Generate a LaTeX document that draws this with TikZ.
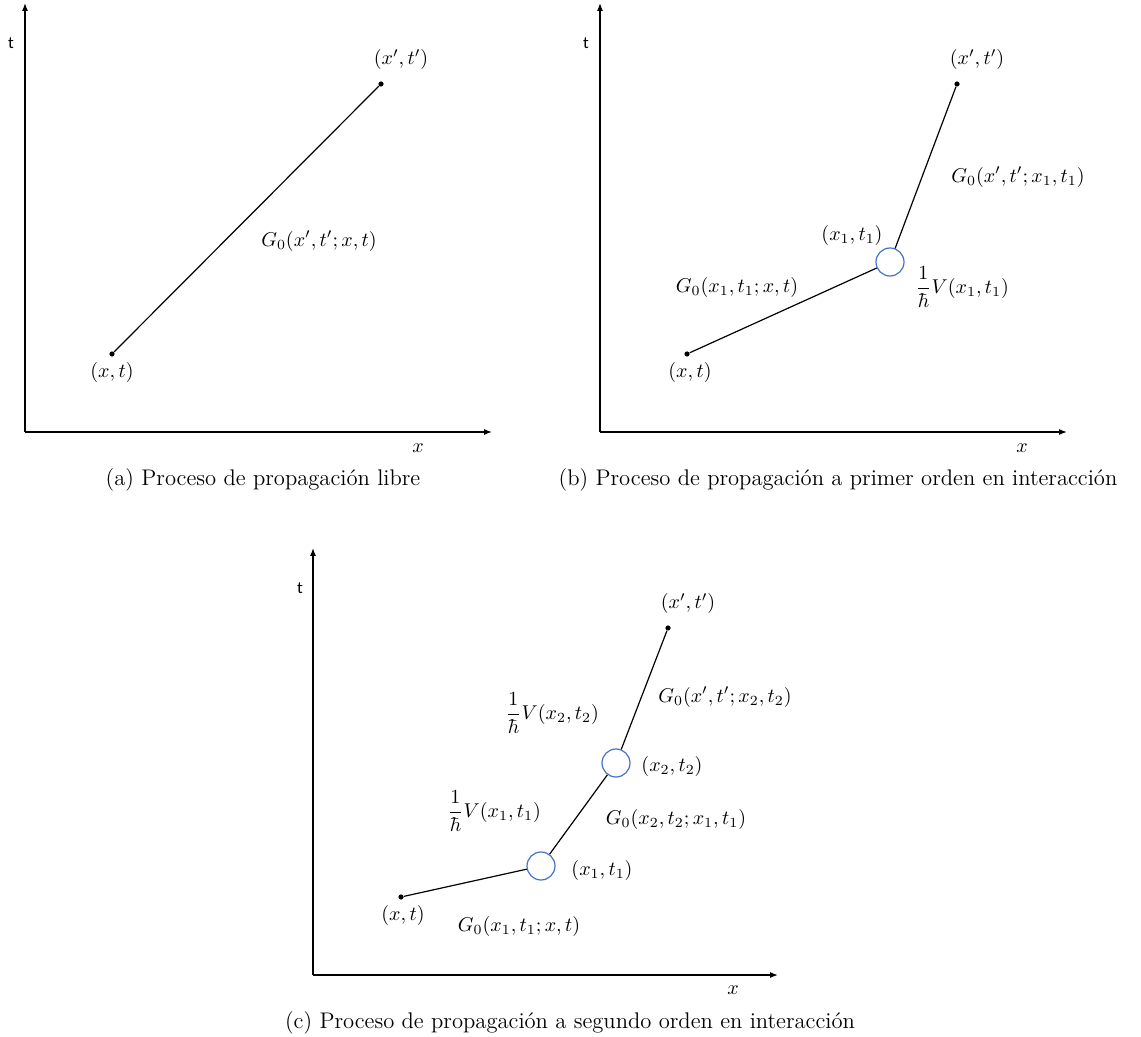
\documentclass[tikz,border=0pt]{standalone}
\usepackage{fontspec}
\usepackage{amsmath}
\usepackage{xcolor}
\usetikzlibrary{arrows.meta, positioning}
\newfontfamily\axisfont{Carlito}
\definecolor{vertexblue}{HTML}{4472C4}

\begin{document}
\begin{tikzpicture}[x=0.5pt, y=-0.5pt,
    % Axes, propagators and vertices
    axisline/.style={-{Latex[length=4pt, width=3pt]}, line width=0.6pt},
    prop/.style={line width=0.6pt},
    event/.style={circle, fill=black, inner sep=0pt, minimum size=2.6pt},
    vertex/.style={circle, draw=vertexblue, fill=white, line width=0.6pt, inner sep=0pt, minimum size=14pt},
    % Text styles
    lbl/.style={inner sep=1pt, font=\fontsize{10.3}{12}\selectfont},
    tlbl/.style={inner sep=1pt, font=\axisfont\fontsize{8.5}{10}\selectfont},
    caption/.style={inner sep=1pt, font=\fontsize{11.3}{13}\selectfont},
]
\useasboundingbox (0,0) rectangle (1141,1037);

% ============================================================================
% (a) FREE PROPAGATION
% ============================================================================
\coordinate (oa) at (25,432);
\coordinate (ta) at (25,3);
\coordinate (xa) at (492,432);
\draw[axisline] (oa) -- (ta);
\draw[axisline] (oa) -- (xa);
\node[tlbl] (tlaba) at (11,43) {t};
\node[lbl] (xlaba) at (418,448) {$x$};

\node[event] (xta) at (112,354) {};
\node[event] (xtpa) at (381,84) {};
\draw[prop] (xta) -- (xtpa);
\node[lbl, below=1.5pt of xta] (xtlaba) {$(x,t)$};
\node[lbl, above=4.5pt of xtpa, xshift=10pt] (xtplaba) {$(x',t')$};
\node[lbl] (ga) at (319,241) {$G_0(x',t';x,t)$};

\node[caption] (capa) at (263,480) {(a) Proceso de propagación libre};

% ============================================================================
% (b) FIRST ORDER
% ============================================================================
\coordinate (ob) at (600,432);
\coordinate (tb) at (600,3);
\coordinate (xb) at (1067,432);
\draw[axisline] (ob) -- (tb);
\draw[axisline] (ob) -- (xb);
\node[tlbl] (tlabb) at (586,43) {t};
\node[lbl] (xlabb) at (1022,448) {$x$};

\node[event] (xtb) at (687,354) {};
\node[event] (xtpb) at (957,84) {};
\node[vertex] (v1b) at (890,262) {};
\draw[prop] (xtb) -- (v1b);
\draw[prop] (v1b) -- (xtpb);
\node[lbl, below=1.5pt of xtb, xshift=1.5pt] (xtlabb) {$(x,t)$};
\node[lbl, above=4.5pt of xtpb, xshift=10pt] (xtplabb) {$(x',t')$};
\node[lbl] (v1labb) at (852,236) {$(x_1,t_1)$};
\node[lbl] (g1b) at (1018,177) {$G_0(x',t';x_1,t_1)$};
\node[lbl] (g0b) at (737,288) {$G_0(x_1,t_1;x,t)$};
\node[lbl] (pot1b) at (962,287) {$\dfrac{1}{\hbar}V(x_1,t_1)$};

\node[caption] (capb) at (838,480) {(b) Proceso de propagación a primer orden en interacción};

% ============================================================================
% (c) SECOND ORDER
% ============================================================================
\coordinate (oc) at (313,975);
\coordinate (tc) at (313,548);
\coordinate (xc) at (778,975);
\draw[axisline] (oc) -- (tc);
\draw[axisline] (oc) -- (xc);
\node[tlbl] (tlabc) at (300,588) {t};
\node[lbl] (xlabc) at (733,990) {$x$};

\node[event] (xtc) at (401,897) {};
\node[event] (xtpc) at (668,628) {};
\node[vertex] (v1c) at (541,866) {};
\node[vertex] (v2c) at (616,763) {};
\draw[prop] (xtc) -- (v1c);
\draw[prop] (v1c) -- (v2c);
\draw[prop] (v2c) -- (xtpc);
\node[lbl, below=1.5pt of xtc, xshift=1pt] (xtlabc) {$(x,t)$};
\node[lbl, above=4.5pt of xtpc, xshift=10pt] (xtplabc) {$(x',t')$};
\node[lbl] (v1labc) at (602,870) {$(x_1,t_1)$};
\node[lbl] (v2labc) at (672,766) {$(x_2,t_2)$};
\node[lbl] (g0c) at (519,926) {$G_0(x_1,t_1;x,t)$};
\node[lbl] (g1c) at (676,819) {$G_0(x_2,t_2;x_1,t_1)$};
\node[lbl] (g2c) at (725,697) {$G_0(x',t';x_2,t_2)$};
\node[lbl] (pot1c) at (494,811) {$\dfrac{1}{\hbar}V(x_1,t_1)$};
\node[lbl] (pot2c) at (552,713) {$\dfrac{1}{\hbar}V(x_2,t_2)$};

\node[caption] (capc) at (570,1023) {(c) Proceso de propagación a segundo orden en interacción};

\end{tikzpicture}
\end{document}
